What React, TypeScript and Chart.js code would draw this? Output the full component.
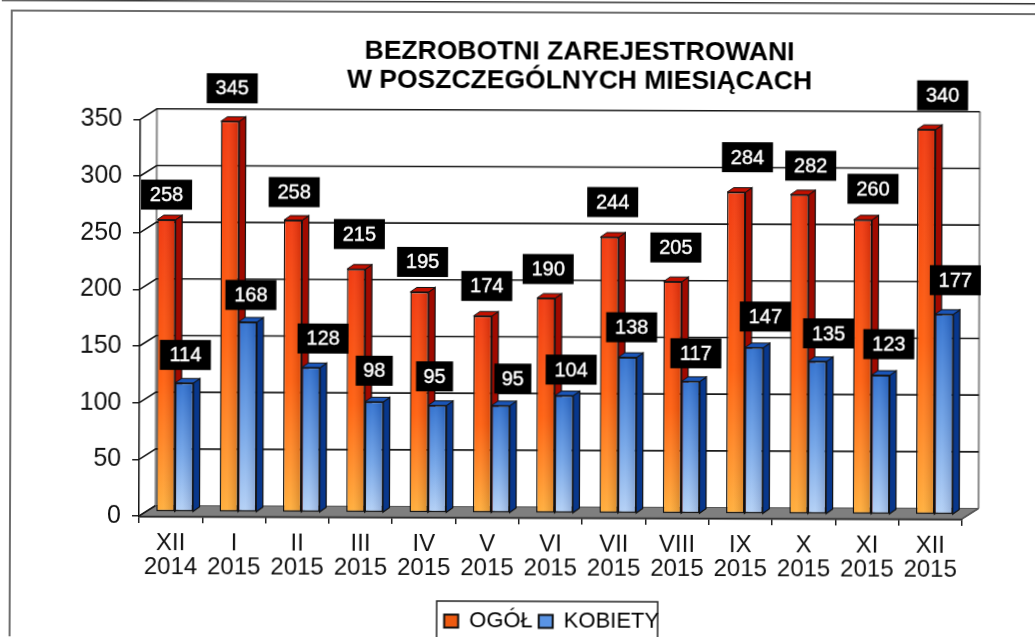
import React, { useEffect, useRef } from "react";
import { Chart, registerables } from "chart.js";

Chart.register(...registerables);

const categories: string[][] = [
  ["XII", "2014"], ["I", "2015"], ["II", "2015"], ["III", "2015"], ["IV", "2015"],
  ["V", "2015"], ["VI", "2015"], ["VII", "2015"], ["VIII", "2015"], ["IX", "2015"],
  ["X", "2015"], ["XI", "2015"], ["XII", "2015"],
];
const ogol = [258, 345, 258, 215, 195, 174, 190, 244, 205, 284, 282, 260, 340];
const kobiety = [114, 168, 128, 98, 95, 95, 104, 138, 117, 147, 135, 123, 177];

// label box placement relative to each bar's top (layout only)
const ogolLabelDx = [-1, 1, 0, 2, 2, 3, 1, 2, 2, 10, 10, 9, 15];
const ogolLabelDy = [24, 32, 27, 34, 29, 29, 28, 34, 33, 34, 28, 30, 33];
const kobietyLabelDx = [0, 2, 11, -1, -4, 11, 6, 3, 4, 10, 10, 7, 10];
const kobietyLabelDy = [27, 26, 28, 30, 28, 26, 25, 29, 27, 30, 27, 30, 33];

const FONT = "'Liberation Sans', Arial, sans-serif";
const WALL = { dx: 16.5, dy: -10.5 };
const BAR_SHIFT = { x: 4, y: -4 };
const BAR_DEPTH = { dx: 6.5, dy: -4.5 };

const palette = [
  { stops: ["#f02c00", "#ff5600", "#ffaa30"], side: "#a00a00", cap: "#c41000", swatch: "#ee5a10" },
  { stops: ["#2468cc", "#6a9fe6", "#b0cef5"], side: "#08378c", cap: "#1a55b8", swatch: "#5a94e4" },
];

function frontGradient(ctx: any, idx: number) {
  const chart = ctx.chart;
  const { y } = chart.scales;
  if (!y || ctx.raw === undefined) return palette[idx].stops[1];
  const g = chart.ctx.createLinearGradient(0, y.getPixelForValue(ctx.raw), 0, y.getPixelForValue(0));
  const s = palette[idx].stops;
  g.addColorStop(0, s[0]);
  g.addColorStop(0.55, s[1]);
  g.addColorStop(1, s[2]);
  return g;
}

const poly = (c: CanvasRenderingContext2D, pts: number[][], fill: string | null, stroke: string, lw: number) => {
  c.beginPath();
  pts.forEach((p, i) => (i ? c.lineTo(p[0], p[1]) : c.moveTo(p[0], p[1])));
  c.closePath();
  if (fill) { c.fillStyle = fill; c.fill(); }
  c.strokeStyle = stroke; c.lineWidth = lw; c.stroke();
};

const scene = {
  id: "scene",
  beforeDraw(chart: any) {
    const c = chart.ctx as CanvasRenderingContext2D;
    c.save();
    c.fillStyle = "#ffffff";
    c.fillRect(-10, -10, chart.width + 20, chart.height + 20);
    // scan frame
    c.strokeStyle = "#6e6e6e"; c.lineWidth = 2;
    c.beginPath();
    c.moveTo(10, chart.height + 10); c.lineTo(10, 11); c.lineTo(chart.width + 10, 11);
    c.stroke();
    c.strokeStyle = "#3a3a3a"; c.lineWidth = 2;
    c.beginPath(); c.moveTo(-5, 0.5); c.lineTo(chart.width + 10, 0.5); c.stroke();
    // legend box
    c.strokeStyle = "#222"; c.lineWidth = 1.5;
    c.strokeRect(437, 600, 221, 40);
    c.restore();
  },
  afterLayout(chart: any) {
    const t = chart.titleBlock;
    if (t) { t.left = 578 - 300; t.right = 578 + 300; t.width = 600; }
    const l = chart.legend;
    if (l) { l.left = 430; l.right = 674; l.width = 244; l.top = 603; l.bottom = 603 + l.height; }
  },
  beforeDatasetsDraw(chart: any) {
    const c = chart.ctx as CanvasRenderingContext2D;
    const y = chart.scales.y;
    const chartArea = chart.chartArea;
    const l = chartArea.left, r = chartArea.right, b = y.getPixelForValue(0), t = y.getPixelForValue(y.max);
    c.save();
    // floor
    poly(c, [[l, b], [l + WALL.dx, b + WALL.dy], [r + WALL.dx, b + WALL.dy], [r, b]], "#7f7f7f", "#555", 1);
    // wall edges
    c.strokeStyle = "#8a8a8a"; c.lineWidth = 2;
    c.beginPath();
    c.moveTo(l + WALL.dx, b + WALL.dy); c.lineTo(l + WALL.dx, t + WALL.dy);
    c.moveTo(r + WALL.dx, b + WALL.dy); c.lineTo(r + WALL.dx, t + WALL.dy);
    c.stroke();
    c.strokeStyle = "#555"; c.lineWidth = 1.5;
    c.beginPath(); c.moveTo(r, b); c.lineTo(r + WALL.dx, b + WALL.dy); c.stroke();
    // gridlines on wall
    c.strokeStyle = "#1a1a1a"; c.lineWidth = 1.6;
    y.ticks.forEach((tk: any) => {
      const py = y.getPixelForValue(tk.value);
      c.beginPath();
      c.moveTo(l, py);
      c.lineTo(l + WALL.dx, py + WALL.dy);
      if (tk.value !== 0) c.lineTo(r + WALL.dx, py + WALL.dy);
      c.stroke();
    });
    c.restore();

    // bars: orange first, then blue on top of the orange side face
    [0, 1].forEach((idx) => {
      const meta = chart.getDatasetMeta(idx);
      const p = palette[idx];
      c.save();
      c.translate(BAR_SHIFT.x, BAR_SHIFT.y);
      meta.data.forEach((el: any) => {
        const { x, y: top, base, width } = el.getProps(["x", "y", "base", "width"], true);
        const rr = x + width / 2, ll = x - width / 2;
        const { dx, dy } = BAR_DEPTH;
        poly(c, [[rr, top], [rr + dx, top + dy], [rr + dx, base + dy], [rr, base]], p.side, "#111", 1.2);
        poly(c, [[ll, top], [ll + dx, top + dy], [rr + dx, top + dy], [rr, top]], p.cap, "#111", 1);
      });
      meta.controller.draw();
      meta.data.forEach((el: any) => {
        const { x, y: top, base, width } = el.getProps(["x", "y", "base", "width"], true);
        const ll = x - width / 2, rr = x + width / 2;
        const g = c.createLinearGradient(ll, 0, rr, 0);
        g.addColorStop(0, "rgba(255,255,255,0.06)");
        g.addColorStop(0.4, "rgba(255,255,255,0.10)");
        g.addColorStop(1, "rgba(0,0,40,0.16)");
        c.fillStyle = g;
        c.fillRect(ll + 1, top + 1, width - 2, base - top - 2);
      });
      c.restore();
    });
  },
  beforeDatasetDraw() {
    return false;
  },
  afterDatasetsDraw(chart: any) {
    const c = chart.ctx as CanvasRenderingContext2D;
    const dxs = [ogolLabelDx, kobietyLabelDx], dys = [ogolLabelDy, kobietyLabelDy];
    c.save();
    c.font = `20px ${FONT}`;
    c.textAlign = "center";
    c.textBaseline = "middle";
    [0, 1].forEach((di) => {
      chart.getDatasetMeta(di).data.forEach((el: any, i: number) => {
        const { x, y } = el.getProps(["x", "y"], true);
        const cx = x + BAR_SHIFT.x + dxs[di][i] + 1;
        const cy = y + BAR_SHIFT.y - dys[di][i] - 1;
        const txt = String(chart.data.datasets[di].data[i]);
        const w = txt.length > 2 ? 51 : 37;
        c.fillStyle = "#000";
        c.fillRect(cx - w / 2, cy - 15, w, 30);
        c.fillStyle = "#fff";
        c.strokeStyle = "#fff"; c.lineWidth = 0.4;
        c.fillText(txt, cx, cy + 1);
        c.strokeText(txt, cx, cy + 1);
      });
    });
    c.restore();
  },
};

export default function App() {
  const ref = useRef<HTMLCanvasElement | null>(null);
  useEffect(() => {
    if (!ref.current) return;
    const chart = new Chart(ref.current, {
      type: "bar",
      plugins: [scene as any],
      data: {
        labels: categories as any,
        datasets: [
          { label: "OGÓŁ", data: ogol, backgroundColor: (c: any) => frontGradient(c, 0), borderColor: "#111", borderWidth: 1.4, borderSkipped: false },
          { label: "KOBIETY", data: kobiety, backgroundColor: (c: any) => frontGradient(c, 1), borderColor: "#111", borderWidth: 1.4, borderSkipped: false },
        ],
      },
      options: {
        responsive: false,
        animation: false,
        layout: { padding: { left: 10, right: 73, top: 0, bottom: 0 } },
        datasets: { bar: { categoryPercentage: 0.58, barPercentage: 1 } },
        scales: {
          x: {
            grid: { drawOnChartArea: false, tickLength: 7, color: "#222", lineWidth: 1.5 },
            border: { color: "#000", width: 2.5 },
            ticks: { color: "#111", font: { family: FONT, size: 24, lineHeight: 1.0 }, padding: 8, maxRotation: 0, autoSkip: false },
            afterFit: (s: any) => { s.height = 83; },
          },
          y: {
            min: 0, max: 350,
            grid: { drawOnChartArea: false, tickLength: 7, color: "#222", lineWidth: 1.5 },
            border: { color: "#111", width: 1.5 },
            ticks: { stepSize: 50, color: "#111", font: { family: FONT, size: 25 }, padding: 11 },
            afterFit: (s: any) => { s.width = 129; },
          },
        },
        plugins: {
          tooltip: { enabled: false },
          title: {
            display: true,
            text: ["BEZROBOTNI ZAREJESTROWANI", "W POSZCZEGÓLNYCH MIESIĄCACH"],
            color: "#000",
            font: { family: FONT, size: 26.5, weight: "bold", lineHeight: 1.1 },
            padding: { top: 36, bottom: 25 },
          },
          legend: {
            display: true,
            position: "bottom",
            fullSize: false,
            labels: {
              color: "#111",
              font: { family: FONT, size: 22 },
              boxWidth: 14, boxHeight: 13, padding: 6,
              generateLabels: (ch: any) =>
                ch.data.datasets.map((d: any, i: number) => ({
                  text: d.label, fillStyle: palette[i].swatch, strokeStyle: "#111", lineWidth: 2, datasetIndex: i, hidden: false,
                })),
            },
          },
        },
      } as any,
    });
    return () => chart.destroy();
  }, []);
  return (
    <canvas
      ref={ref}
      width={1035}
      height={637}
      style={{ position: "absolute", left: 0, top: 0, width: 1035, height: 637, transform: "rotate(0.2deg)", transformOrigin: "139px 514px" }}
    />
  );
}
